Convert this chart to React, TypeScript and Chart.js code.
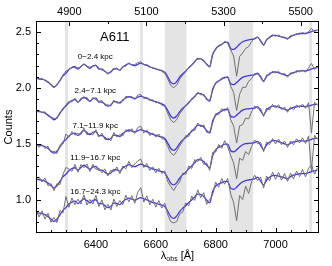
import React, { useEffect, useRef } from "react";
import { Chart, registerables } from "chart.js";
Chart.register(...registerables);

// ---- data ----
const WAVE = [6200,6210,6220,6230,6240,6250,6260,6270,6280,6290,6300,6310,6320,6330,6340,6350,6360,6370,6380,6390,6400,6410,6420,6430,6440,6450,6460,6470,6480,6490,6500,6510,6520,6530,6540,6550,6560,6570,6580,6590,6600,6610,6620,6630,6640,6650,6660,6670,6680,6690,6700,6710,6720,6730,6740,6750,6760,6770,6780,6790,6800,6810,6820,6830,6840,6850,6860,6870,6880,6890,6900,6910,6920,6930,6940,6950,6960,6970,6980,6990,7000,7010,7020,7030,7040,7050,7060,7070,7080,7090,7100,7110,7120,7130,7140];

const MODEL_1 = [2.087,2.083,2.078,2.070,2.052,2.030,2.010,2.028,2.068,2.108,2.132,2.165,2.182,2.190,2.168,2.192,2.212,2.195,2.176,2.198,2.203,2.168,2.168,2.150,2.132,2.142,2.172,2.170,2.160,2.188,2.205,2.218,2.208,2.200,2.212,2.222,2.212,2.202,2.190,2.178,2.172,2.162,2.156,2.142,2.100,2.052,2.036,2.058,2.098,2.128,2.150,2.180,2.205,2.235,2.262,2.260,2.245,2.212,2.190,2.300,2.350,2.375,2.390,2.408,2.410,2.352,2.345,2.365,2.392,2.414,2.425,2.430,2.435,2.440,2.455,2.420,2.385,2.430,2.455,2.470,2.472,2.465,2.458,2.450,2.443,2.460,2.473,2.480,2.488,2.488,2.488,2.495,2.505,2.512,2.518];
const MODEL_2 = [1.792,1.788,1.783,1.775,1.757,1.735,1.715,1.733,1.773,1.813,1.837,1.870,1.887,1.895,1.873,1.897,1.917,1.900,1.881,1.903,1.908,1.873,1.873,1.855,1.837,1.847,1.877,1.875,1.865,1.893,1.910,1.923,1.913,1.905,1.917,1.927,1.917,1.907,1.895,1.883,1.877,1.866,1.858,1.842,1.798,1.748,1.730,1.750,1.788,1.818,1.840,1.870,1.895,1.925,1.952,1.950,1.935,1.902,1.880,1.990,2.040,2.064,2.078,2.095,2.096,2.037,2.029,2.048,2.074,2.095,2.105,2.110,2.114,2.118,2.132,2.096,2.060,2.104,2.128,2.142,2.143,2.135,2.127,2.118,2.110,2.126,2.138,2.145,2.153,2.153,2.153,2.160,2.170,2.177,2.183];
const MODEL_3 = [1.492,1.488,1.483,1.475,1.457,1.435,1.415,1.433,1.473,1.513,1.537,1.570,1.587,1.595,1.573,1.597,1.617,1.600,1.581,1.603,1.608,1.573,1.573,1.555,1.537,1.547,1.577,1.575,1.565,1.593,1.610,1.623,1.613,1.605,1.617,1.627,1.617,1.607,1.595,1.583,1.577,1.567,1.561,1.547,1.505,1.457,1.441,1.463,1.503,1.533,1.555,1.585,1.610,1.640,1.667,1.665,1.650,1.617,1.595,1.705,1.755,1.778,1.791,1.807,1.807,1.747,1.738,1.756,1.781,1.801,1.810,1.813,1.816,1.819,1.832,1.795,1.758,1.801,1.824,1.837,1.837,1.828,1.819,1.809,1.800,1.815,1.826,1.831,1.837,1.835,1.833,1.838,1.846,1.851,1.855];
const MODEL_4 = [1.182,1.178,1.173,1.165,1.147,1.125,1.105,1.123,1.163,1.203,1.227,1.260,1.277,1.285,1.263,1.287,1.307,1.290,1.271,1.293,1.298,1.263,1.263,1.245,1.227,1.237,1.267,1.265,1.255,1.283,1.300,1.313,1.303,1.295,1.307,1.317,1.307,1.297,1.285,1.273,1.267,1.257,1.251,1.237,1.195,1.147,1.131,1.153,1.193,1.223,1.245,1.275,1.300,1.330,1.357,1.355,1.340,1.307,1.285,1.395,1.445,1.468,1.481,1.497,1.497,1.437,1.428,1.446,1.471,1.491,1.500,1.503,1.506,1.509,1.522,1.485,1.448,1.491,1.514,1.527,1.527,1.518,1.509,1.499,1.490,1.505,1.516,1.521,1.527,1.525,1.523,1.530,1.540,1.547,1.553];
const MODEL_5 = [0.882,0.878,0.873,0.865,0.847,0.825,0.805,0.823,0.863,0.903,0.927,0.960,0.977,0.985,0.963,0.987,1.007,0.990,0.971,0.993,0.998,0.963,0.963,0.945,0.927,0.937,0.967,0.965,0.955,0.983,1.000,1.013,1.003,0.995,1.007,1.017,1.007,0.997,0.985,0.973,0.967,0.957,0.951,0.937,0.895,0.847,0.831,0.853,0.893,0.923,0.945,0.973,0.996,1.024,1.049,1.045,1.028,0.993,0.970,1.075,1.120,1.140,1.150,1.163,1.160,1.100,1.092,1.111,1.137,1.159,1.170,1.175,1.180,1.185,1.200,1.165,1.130,1.175,1.200,1.215,1.217,1.210,1.203,1.195,1.188,1.205,1.218,1.225,1.233,1.233,1.233,1.240,1.250,1.257,1.263];

const RESID_1 = [0.004,-0.006,0.008,-0.004,0.006,-0.005,-0.010,0.004,-0.006,0.010,0.020,-0.006,0.008,-0.010,0.012,-0.004,0.006,-0.008,0.010,-0.006,0.004,0.012,-0.008,0.006,-0.010,0.008,-0.004,0.010,-0.006,0.004,-0.010,0.008,-0.004,0.010,0.016,0.012,-0.006,0.008,-0.004,0.006,-0.006,0.004,-0.008,-0.010,-0.020,-0.030,-0.036,-0.030,-0.020,-0.012,-0.004,0.006,-0.004,0.008,-0.006,0.004,-0.008,0.006,-0.004,0.010,-0.006,0.008,-0.004,0.010,-0.010,-0.010,-0.060,-0.260,-0.110,-0.100,-0.070,-0.060,-0.020,0.008,-0.004,0.010,-0.006,0.008,-0.006,0.004,-0.008,0.010,-0.004,0.006,-0.008,0.010,-0.004,0.006,-0.006,0.008,-0.004,0.010,0.030,-0.006,0.004];
const RESID_2 = [-0.008,0.010,-0.004,0.012,-0.010,0.006,0.012,-0.008,0.010,-0.012,0.015,0.008,-0.012,0.014,-0.006,0.012,-0.010,0.016,-0.008,0.012,-0.014,0.008,0.014,-0.010,0.012,-0.008,0.014,-0.012,0.008,-0.010,0.016,-0.006,0.012,-0.010,0.020,0.015,-0.012,0.010,-0.008,0.012,-0.010,0.008,-0.012,-0.006,-0.025,-0.035,-0.040,-0.032,-0.018,-0.014,0.004,-0.010,0.012,-0.008,0.010,-0.012,0.008,-0.010,0.012,-0.014,0.010,-0.008,0.012,-0.010,0.008,-0.020,-0.070,-0.250,-0.130,-0.090,-0.100,-0.050,-0.030,0.012,-0.010,0.014,-0.008,0.012,-0.012,0.008,-0.010,0.014,-0.008,0.012,-0.014,0.010,-0.008,0.012,-0.010,0.008,-0.012,0.020,0.050,-0.010,0.008];
const RESID_3 = [0.015,-0.020,0.010,-0.018,0.022,-0.012,0.018,-0.020,0.014,-0.016,0.050,-0.012,0.024,-0.018,0.020,-0.014,0.026,-0.020,0.012,-0.024,0.018,-0.012,0.022,-0.018,0.014,-0.020,0.024,-0.014,0.018,-0.022,0.016,-0.018,0.022,-0.012,0.030,0.030,-0.020,0.016,-0.022,0.014,-0.018,0.020,-0.014,-0.010,-0.030,-0.040,-0.045,-0.030,-0.020,-0.010,0.018,-0.020,0.014,-0.022,0.018,-0.014,0.020,-0.016,0.012,-0.020,0.016,-0.018,0.024,-0.014,0.018,-0.030,-0.080,-0.250,-0.120,-0.130,-0.080,-0.090,-0.030,0.020,-0.018,0.022,-0.014,0.018,-0.022,0.016,-0.018,0.022,-0.014,0.020,-0.018,0.014,-0.022,0.016,-0.012,0.020,-0.016,0.030,-0.250,0.020,-0.010];
const RESID_4 = [-0.020,0.025,-0.015,0.028,-0.022,0.018,-0.025,0.020,-0.028,0.022,0.060,0.015,-0.025,0.030,-0.018,0.026,-0.022,0.030,-0.020,0.024,-0.028,0.018,-0.024,0.030,-0.016,0.026,-0.020,0.028,-0.024,0.018,-0.026,0.030,-0.018,0.024,0.040,0.045,-0.020,0.026,-0.024,0.020,-0.028,0.022,-0.018,0.020,-0.035,-0.030,-0.050,-0.025,-0.035,0.015,-0.020,0.026,-0.022,0.028,-0.018,0.024,-0.026,0.020,-0.024,0.028,-0.020,0.026,-0.022,0.030,-0.025,-0.040,-0.100,-0.260,-0.100,-0.140,-0.070,-0.100,-0.030,0.025,-0.022,0.028,-0.020,0.026,-0.024,0.020,-0.028,0.024,-0.018,0.026,-0.022,0.020,-0.026,0.024,-0.020,0.028,-0.022,0.040,-0.280,0.030,-0.015];
const RESID_5 = [0.030,-0.035,0.025,-0.040,0.030,-0.028,0.035,-0.030,0.040,-0.025,0.100,-0.030,0.038,-0.032,0.040,-0.028,0.036,-0.040,0.030,-0.034,0.040,-0.026,0.034,-0.038,0.030,-0.032,0.038,-0.028,0.036,-0.030,0.040,-0.034,0.032,-0.028,0.060,0.090,-0.030,0.036,-0.032,0.030,-0.036,0.034,-0.028,0.030,-0.030,-0.045,-0.040,-0.050,-0.020,-0.035,0.025,-0.030,0.036,-0.032,0.038,-0.028,0.034,-0.036,0.030,-0.032,0.036,-0.030,0.038,-0.026,0.030,-0.050,-0.120,-0.300,-0.100,-0.160,-0.050,-0.120,-0.020,0.034,-0.030,0.038,-0.028,0.036,-0.032,0.030,-0.036,0.034,-0.030,0.038,-0.026,0.032,-0.034,0.030,-0.028,0.036,-0.030,0.040,0.060,-0.030,0.020];

const RING_LABELS = ["0\u22122.4 kpc", "2.4\u22127.1 kpc", "7.1\u221211.9 kpc", "11.9\u221216.7 kpc", "16.7\u221224.3 kpc"];
const RING_LABEL_Y = [2.277, 1.973, 1.66, 1.375, 1.071];
const RING_LABEL_X = 6398;
const TITLE = "A611";
const TITLE_X = 6463;
const TITLE_Y = 2.455;

const BAND_LO = [6297, 6547, 6630, 6845, 7112];
const BAND_HI = [6307, 6557, 6702, 6925, 7122];

const X_MIN = 6200;
const X_MAX = 7145;
const Y_MIN = 0.7;
const Y_MAX = 2.6;
const REDSHIFT = 0.288;
const BOTTOM_LABELS = [6400, 6600, 6800, 7000];
const TOP_LABELS = [4900, 5100, 5300, 5500];
const LEFT_LABELS = [1.0, 1.5, 2.0, 2.5];

const MODELS = [MODEL_1, MODEL_2, MODEL_3, MODEL_4, MODEL_5];
const RESIDS = [RESID_1, RESID_2, RESID_3, RESID_4, RESID_5];

const BLUE = "#4236e8";
const GREY = "#707070";
const BAND = "#e4e4e4";
const FONT = "'Liberation Sans', Arial, sans-serif";

export default function App() {
  const ref = useRef<HTMLCanvasElement | null>(null);
  useEffect(() => {
    const canvas = ref.current!;
    const datasets: any[] = [];
    MODELS.forEach((m, i) => {
      datasets.push({
        data: WAVE.map((w, k) => ({ x: w, y: m[k] + RESIDS[i][k] })),
        borderColor: GREY,
        borderWidth: 1,
        pointRadius: 0,
        tension: 0,
        fill: false,
      });
      datasets.push({
        data: WAVE.map((w, k) => ({ x: w, y: m[k] })),
        borderColor: BLUE,
        borderWidth: 1.3,
        pointRadius: 0,
        tension: 0.3,
        cubicInterpolationMode: "monotone",
        fill: false,
      });
    });

    const deco = {
      id: "deco",
      beforeDatasetsDraw(chart: any) {
        const { ctx, chartArea: a, scales } = chart;
        const x = scales.x;
        ctx.save();
        ctx.fillStyle = BAND;
        BAND_LO.forEach((lo, i) => {
          const p0 = x.getPixelForValue(lo);
          const p1 = x.getPixelForValue(BAND_HI[i]);
          ctx.fillRect(p0, a.top, p1 - p0, a.bottom - a.top);
        });
        ctx.restore();
      },
      afterDraw(chart: any) {
        const { ctx, chartArea: a, scales } = chart;
        const x = scales.x;
        const y = scales.y;
        const xt = scales.xTop;
        ctx.save();
        ctx.strokeStyle = "#000";
        ctx.lineWidth = 1;
        const line = (x0: number, y0: number, x1: number, y1: number) => {
          ctx.beginPath();
          ctx.moveTo(x0, y0);
          ctx.lineTo(x1, y1);
          ctx.stroke();
        };
        // bottom ticks
        for (let v = 6250; v <= X_MAX; v += 50) {
          const px = Math.round(x.getPixelForValue(v)) + 0.5;
          const len = v % 200 === 0 ? 5 : 3;
          line(px, a.bottom, px, a.bottom - len);
        }
        // top ticks (rest frame)
        for (let v = 4900; v <= 5500; v += 100) {
          const px = Math.round(xt.getPixelForValue(v)) + 0.5;
          const len = v % 200 === 100 ? 5 : 3;
          line(px, a.top, px, a.top + len);
        }
        // left/right ticks
        for (let k = 8; k <= 25; k++) {
          const v = k / 10;
          const py = Math.round(y.getPixelForValue(v)) + 0.5;
          const len = k % 5 === 0 ? 5 : 3;
          line(a.left, py, a.left + len, py);
          line(a.right, py, a.right - len, py);
        }
        // frame
        ctx.strokeRect(Math.round(a.left) + 0.5, Math.round(a.top) + 0.5, Math.round(a.right - a.left) - 1, Math.round(a.bottom - a.top) - 1);

        ctx.fillStyle = "#000";
        ctx.font = `11px ${FONT}`;
        ctx.textAlign = "center";
        ctx.textBaseline = "middle";
        BOTTOM_LABELS.forEach((v) => ctx.fillText(String(v), x.getPixelForValue(v), a.bottom + 12));
        TOP_LABELS.forEach((v) => ctx.fillText(String(v), xt.getPixelForValue(v), a.top - 9));
        ctx.textAlign = "right";
        LEFT_LABELS.forEach((v) => ctx.fillText(v.toFixed(1), a.left - 5, y.getPixelForValue(v)));

        // y title
        ctx.save();
        ctx.translate(9, (a.top + a.bottom) / 2);
        ctx.rotate(-Math.PI / 2);
        ctx.textAlign = "center";
        ctx.fillText("Counts", 0, 0);
        ctx.restore();

        // x title
        const cx = (a.left + a.right) / 2;
        const ty = 256;
        ctx.textAlign = "left";
        ctx.font = `11px ${FONT}`;
        const w1 = ctx.measureText("\u03bb").width;
        ctx.font = `7px ${FONT}`;
        const w2 = ctx.measureText("obs").width;
        ctx.font = `11px ${FONT}`;
        const w3 = ctx.measureText(" [\u00c5]").width;
        let sx = cx - (w1 + w2 + w3) / 2;
        ctx.fillText("\u03bb", sx, ty);
        sx += w1;
        ctx.font = `7px ${FONT}`;
        ctx.fillText("obs", sx, ty + 3);
        sx += w2;
        ctx.font = `11px ${FONT}`;
        ctx.fillText(" [\u00c5]", sx, ty);

        // panel title + ring labels
        ctx.textAlign = "center";
        ctx.font = `13px ${FONT}`;
        ctx.fillText(TITLE, x.getPixelForValue(TITLE_X), y.getPixelForValue(TITLE_Y));
        ctx.font = `8px ${FONT}`;
        RING_LABELS.forEach((t, i) => ctx.fillText(t, x.getPixelForValue(RING_LABEL_X), y.getPixelForValue(RING_LABEL_Y[i])));
        ctx.restore();
      },
    };

    const chart = new Chart(canvas, {
      type: "line",
      data: { datasets },
      options: {
        animation: false,
        responsive: false,
        devicePixelRatio: 1,
        layout: { padding: { left: 36, top: 21, right: 13, bottom: 33 } },
        plugins: { legend: { display: false }, tooltip: { enabled: false } },
        scales: {
          x: { type: "linear", min: X_MIN, max: X_MAX, display: false },
          xTop: { type: "linear", axis: "x", min: X_MIN / (1 + REDSHIFT), max: X_MAX / (1 + REDSHIFT), display: false },
          y: { type: "linear", min: Y_MIN, max: Y_MAX, display: false },
        },
      },
      plugins: [deco],
    });
    return () => chart.destroy();
  }, []);
  return (
    <div style={{ position: "absolute", left: 0, top: 0, width: 332, height: 266, background: "#fff" }}>
      <canvas ref={ref} width={332} height={266} />
    </div>
  );
}
